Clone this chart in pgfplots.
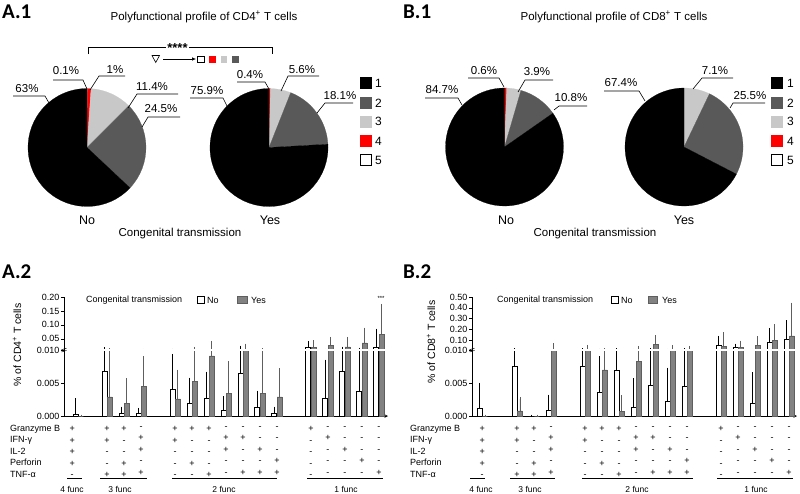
\documentclass[border=0pt]{standalone}
\usepackage{fontspec}
\setmainfont{Liberation Sans}
\newfontfamily\calibri{Carlito}
\usepackage{pgfplots}
\usepackage{pgfplotstable}
\pgfplotsset{compat=1.18}
\usetikzlibrary{arrows.meta}
\definecolor{dg}{HTML}{595959}
\definecolor{lg}{HTML}{C8C8C8}
\definecolor{pred}{HTML}{FF0000}
\definecolor{barg}{HTML}{828282}
\definecolor{barb}{HTML}{5E5E5E}

% CD4 (A.2): x position, No value, No error-bar top, Yes value, Yes error-bar top
\pgfplotstableread{
x     no      notop   yes     yestop
-1.7  0.0003  0.0025  0       0
0     0.0068  0.0150  0.0029  0.0102
1     0.0004  0.0012  0.0019  0.0055
2     0.00035 0.0010  0.0045  0.0088
4     0.0041  0.0092  0.0026  0.0068
5     0.0019  0.0056  0.0052  0.0155
6     0.0027  0.0065  0.0091  0.0370
7     0.0009  0.0028  0.0034  0.0081
8     0.0065  0.0205  0.0105  0.0276
9     0.0014  0.0036  0.0034  0.0102
10    0.0004  0.0012  0.0029  0.0070
12    0.0185  0.0375  0.0185  0.0400
13    0.0027  0.0083  0.0260  0.0520
14    0.0068  0.0170  0.0210  0.0520
15    0.0037  0.0136  0.0360  0.0850
16    0.0205  0.0810  0.0660  0.1700
}\dataA

% CD8 (B.2)
\pgfplotstableread{
x     no      notop   yes     yestop
-2.05 0.0012  0.0048  0       0
0     0.0076  0.0115  0.00076 0.0026
1     0       0       0       0
2     0.0009  0.0030  0.0105  0.0580
4     0.0075  0.0115  0.0110  0.0440
5     0.0036  0.0088  0.0070  0.0116
6     0.0070  0.0116  0.00066 0.0029
7     0.0013  0.0055  0.0083  0.0350
8     0.0046  0.0110  0.0655  0.1330
9     0.0023  0.0071  0.0105  0.0405
10    0.0045  0.0110  0.0102  0.0350
12    0.0530  0.1270  0.0470  0.1580
13    0.0310  0.0560  0.0310  0.0840
14    0.0019  0.0064  0.0530  0.1240
15    0.0840  0.2010  0.1000  0.2320
16    0.1090  0.2690  0.1400  0.4350
}\dataB

% pie slice: centre x, centre y, radius, from %, to % (clockwise from top), colour
\newcommand{\slice}[6]{%
  \filldraw[fill=#6, draw=#6, line width=0.2pt] (axis cs:#1,#2) -- ++({90-3.6*#4}:#3pt)
    arc[start angle={90-3.6*#4}, end angle={90-3.6*#5}, radius=#3pt] -- cycle;}

% half a bar pitch: 2.75pt / 17pt per category
\def\hs{0.1618}

\pgfplotsset{
  barbase/.style={scale only axis, enlargelimits=false,
    axis y line=left, axis line style={-, line width=0.6pt},
    tick align=outside, major tick length=3pt,
    y tick style={line width=0.6pt, black}, x tick style={draw=none},
    yticklabel style={font=\fontsize{9}{10}\selectfont, inner sep=1.5pt},
    scaled y ticks=false},
  noplot/.style={ybar, bar width=5pt, bar shift=0pt, fill=white, draw=black, line width=0.5pt,
    error bars/.cd, y dir=plus, y explicit,
    error bar style={black, line width=0.6pt},
    error mark options={black, mark size=1.5pt, line width=0.6pt}},
  yesplot/.style={ybar, bar width=5pt, bar shift=0pt, fill=barg, draw=barb, line width=0.5pt,
    error bars/.cd, y dir=plus, y explicit,
    error bar style={barb, line width=0.6pt},
    error mark options={barb, mark size=1.5pt, line width=0.6pt}},
  signlabels/.style={
    xtick={-2.05,0,1,2,4,5,6,7,8,9,10,12,13,14,15,16},
    xticklabels={{+\\+\\+\\+\\-},{+\\+\\-\\-\\+},{+\\-\\-\\+\\+},{-\\+\\+\\-\\+},
      {+\\+\\-\\-\\-},{+\\-\\-\\+\\-},{+\\-\\-\\-\\+},{-\\+\\+\\-\\-},{-\\+\\-\\-\\+},
      {-\\-\\+\\-\\+},{-\\-\\-\\+\\+},{+\\-\\-\\-\\-},{-\\+\\-\\-\\-},{-\\-\\+\\-\\-},
      {-\\-\\-\\+\\-},{-\\-\\-\\-\\+}},
    xticklabel style={font=\fontsize{9}{11.5}\selectfont, align=center, anchor=north, inner sep=0pt, yshift=-9pt}}
}

\newcommand{\bars}[1]{%
\addplot[noplot] table[x expr=\thisrow{x}-\hs, y=no, y error expr=\thisrow{notop}-\thisrow{no}] {#1};
\addplot[yesplot] table[x expr=\thisrow{x}+\hs, y=yes, y error expr=\thisrow{yestop}-\thisrow{yes}] {#1};}

\begin{document}
\begin{tikzpicture}
\path[use as bounding box] (0pt,0pt) rectangle (800pt,-493pt);

% ---------- pies ----------
\begin{axis}[at={(0pt,-493pt)}, anchor=south west, scale only axis, width=800pt, height=493pt,
  xmin=0, xmax=800, ymin=0, ymax=493, y dir=reverse, hide axis, clip=false]
\addplot[draw=none] coordinates {(0,0)};
% A.1 No
\slice{87}{147.5}{59}{0}{0.1}{white}
\slice{87}{147.5}{59}{0.1}{1.1}{pred}
\slice{87}{147.5}{59}{1.1}{12.5}{lg}
\slice{87}{147.5}{59}{12.5}{37.0}{dg}
\slice{87}{147.5}{59}{37.0}{100}{black}
% A.1 Yes
\slice{269}{147.5}{59}{0}{0.4}{pred}
\slice{269}{147.5}{59}{0.4}{6.0}{lg}
\slice{269}{147.5}{59}{6.0}{24.1}{dg}
\slice{269}{147.5}{59}{24.1}{100}{black}
% B.1 No
\slice{504.5}{147}{59}{0}{0.6}{pred}
\slice{504.5}{147}{59}{0.6}{4.5}{lg}
\slice{504.5}{147}{59}{4.5}{15.3}{dg}
\slice{504.5}{147}{59}{15.3}{100}{black}
% B.1 Yes
\slice{684}{147}{59}{0}{7.1}{lg}
\slice{684}{147}{59}{7.1}{32.6}{dg}
\slice{684}{147}{59}{32.6}{100}{black}
\end{axis}

% ---------- A.2 lower ----------
\begin{axis}[barbase, signlabels, at={(64pt,-416pt)}, anchor=south west, width=324pt, height=66pt,
  xmin=-2.53, xmax=16.53, ymin=0, ymax=0.010, axis x line=bottom,
  ytick={0,0.005,0.010}, yticklabels={0.000,0.005,0.010}]
\bars{\dataA}
\end{axis}
% ---------- A.2 upper ----------
\begin{axis}[barbase, at={(64pt,-350pt)}, anchor=south west, width=324pt, height=53pt,
  xmin=-2.53, xmax=16.53, ymin=0.010, ymax=0.20, axis x line=none,
  ytick={0.05,0.10,0.15,0.20}, yticklabels={0.05,0.10,0.15,0.20}]
\bars{\dataA}
\end{axis}

% ---------- B.2 lower ----------
\begin{axis}[barbase, signlabels, at={(472pt,-416pt)}, anchor=south west, width=325pt, height=66pt,
  xmin=-2.65, xmax=16.47, ymin=0, ymax=0.010, axis x line=bottom,
  ytick={0,0.005,0.010}, yticklabels={0.000,0.005,0.010}]
\bars{\dataB}
\end{axis}
% ---------- B.2 upper ----------
\begin{axis}[barbase, at={(472pt,-350pt)}, anchor=south west, width=325pt, height=53pt,
  xmin=-2.65, xmax=16.47, ymin=0.010, ymax=0.50, axis x line=none,
  ytick={0.1,0.2,0.3,0.4,0.5}, yticklabels={0.10,0.20,0.30,0.40,0.50}]
\bars{\dataB}
\end{axis}

\begin{scope}[x=1pt,y=1pt]
% ---------- breaks ----------
\draw[white, line width=1.3pt] (64.8,-350) -- (388,-350);
\draw[white, line width=1.3pt] (472.8,-350) -- (797,-350);
\foreach \bx in {64,472}{
  \draw[line width=0.5pt] (\bx-2.5,-349.8) -- (\bx+2.5,-348.2);
  \draw[line width=0.5pt] (\bx-2.5,-352.0) -- (\bx+2.5,-350.4);
}

% ---------- panel labels & titles ----------
\begin{scope}[font=\calibri\bfseries\fontsize{21}{21}\selectfont]
\node[anchor=west, inner sep=0pt] at (2,-12) {A.1};
\node[anchor=west, inner sep=0pt] at (403,-12) {B.1};
\node[anchor=west, inner sep=0pt] at (2,-272) {A.2};
\node[anchor=west, inner sep=0pt] at (403,-272) {B.2};
\end{scope}
\begin{scope}[font=\fontsize{11.5}{12}\selectfont]
\node at (204,-17) {Polyfunctional profile of CD4\textsuperscript{+} T cells};
\node at (614,-17) {Polyfunctional profile of CD8\textsuperscript{+} T cells};
\node at (180,-234) {Congenital transmission};
\node at (595,-234) {Congenital transmission};
\end{scope}
\begin{scope}[font=\fontsize{12.5}{13}\selectfont]
\node at (87,-220) {No};
\node at (270,-220) {Yes};
\node at (506,-220) {No};
\node at (684,-220) {Yes};
\end{scope}

% ---------- pie labels ----------
\begin{scope}[font=\fontsize{11.5}{12}\selectfont, line width=0.6pt]
% A No
\node at (27,-89) {63\%};   \draw (13,-96) -- (45,-96) -- (49,-103);
\node at (66,-71) {0.1\%};  \draw (53,-80) -- (83,-80) -- (87,-89);
\node at (115,-70) {1\%};   \draw (90,-90) -- (99,-76) -- (125,-76);
\node at (152,-87) {11.4\%}; \draw (128,-108) -- (137,-94) -- (178,-94);
\node at (161,-109) {24.5\%}; \draw (142,-127) -- (148,-117) -- (180,-117);
% A Yes
\node at (207,-91) {75.9\%}; \draw (190,-98) -- (223,-98) -- (227,-106);
\node at (250,-75) {0.4\%};  \draw (237,-82) -- (265,-82) -- (269,-89);
\node at (302,-70) {5.6\%};  \draw (281,-91) -- (288,-76) -- (319,-76);
\node at (340,-96) {18.1\%}; \draw (317,-113) -- (325,-103) -- (353,-103);
% B No
\node at (442,-90) {84.7\%}; \draw (425,-98) -- (458,-98) -- (462,-105);
\node at (484,-71) {0.6\%};  \draw (468,-78) -- (499,-78) -- (504,-87);
\node at (537,-72) {3.9\%};  \draw (518,-92) -- (525,-80) -- (553,-80);
\node at (571,-98) {10.8\%}; \draw (554,-110) -- (559,-106) -- (587,-106);
% B Yes
\node at (621,-83) {67.4\%}; \draw (604,-91) -- (639,-91) -- (645,-101);
\node at (715,-71) {7.1\%};  \draw (693,-89) -- (702,-78) -- (733,-78);
\node at (750,-96) {25.5\%}; \draw (730,-108) -- (733,-103) -- (765,-103);
\end{scope}

% ---------- pie legends ----------
\foreach \lx/\tx in {360/375,771/787}{
  \fill[black] (\lx,-77) rectangle ++(12,-12);
  \fill[dg] (\lx,-97) rectangle ++(12,-12);
  \fill[lg] (\lx,-115.5) rectangle ++(12,-12);
  \fill[pred] (\lx,-135) rectangle ++(12,-12);
  \draw[line width=0.7pt, fill=white] (\lx+0.35,-154.35) rectangle ++(11.3,-11.3);
  \begin{scope}[font=\fontsize{12}{12}\selectfont]
  \node[anchor=west, inner sep=0pt] at (\tx,-83) {1};
  \node[anchor=west, inner sep=0pt] at (\tx,-103) {2};
  \node[anchor=west, inner sep=0pt] at (\tx,-121.5) {3};
  \node[anchor=west, inner sep=0pt] at (\tx,-141) {4};
  \node[anchor=west, inner sep=0pt] at (\tx,-160) {5};
  \end{scope}
}

% ---------- significance bracket (A.1) ----------
\draw[line width=0.7pt] (88,-54) -- (88,-47.5) -- (272,-47.5) -- (272,-54);
\node[fill=white, inner sep=1.5pt, font=\bfseries\fontsize{13}{13}\selectfont] at (177.5,-48) {****};
\draw[line width=0.6pt] (152,-55.5) -- (159.5,-55.5) -- (155.75,-62.5) -- cycle;
\draw[line width=0.6pt, -{Latex[length=4pt,width=3.5pt]}] (163,-59) -- (196,-59);
\draw[line width=0.6pt, fill=white] (197.5,-56) rectangle (204,-62.5);
\fill[pred] (209,-56) rectangle (215.5,-62.5);
\fill[lg] (220.5,-56) rectangle (227,-62.5);
\fill[dg] (232,-56) rectangle (238.5,-62.5);

% ---------- bar chart y labels and legends ----------
\node[rotate=90, font=\fontsize{10.5}{11}\selectfont] at (17,-345) {\% of CD4\textsuperscript{+} T cells};
\node[rotate=90, font=\fontsize{10.5}{11}\selectfont] at (431,-342) {\% of CD8\textsuperscript{+} T cells};
\begin{scope}[font=\fontsize{9}{10}\selectfont]
\node[anchor=west, inner sep=0pt] at (86,-300) {Congenital transmission};
\draw[line width=0.5pt, fill=white] (197,-296.5) rectangle (204,-303.5);
\node[anchor=west, inner sep=0pt] at (207,-300) {No};
\filldraw[fill=barg, draw=barb, line width=0.5pt] (237,-296.5) rectangle (247,-303.5);
\node[anchor=west, inner sep=0pt] at (251,-300) {Yes};
\node[anchor=west, inner sep=0pt] at (497,-300) {Congenital transmission};
\draw[line width=0.5pt, fill=white] (611,-296.5) rectangle (618,-303.5);
\node[anchor=west, inner sep=0pt] at (621,-300) {No};
\filldraw[fill=barg, draw=barb, line width=0.5pt] (648,-296.5) rectangle (657,-303.5);
\node[anchor=west, inner sep=0pt] at (662,-300) {Yes};
\end{scope}
\node[font=\fontsize{6}{6}\selectfont] at (381,-298) {***};

% ---------- row names ----------
\begin{scope}[font=\fontsize{9}{11.5}\selectfont]
\node[anchor=north west, align=left, inner sep=0pt] at (10,-425) {Granzyme B\\IFN-γ\\IL-2\\Perforin\\TNF-α};
\node[anchor=north west, align=left, inner sep=0pt] at (410,-425) {Granzyme B\\IFN-γ\\IL-2\\Perforin\\TNF-α};
\end{scope}

% ---------- func groups ----------
\begin{scope}[line width=0.6pt]
\draw (67,-478) -- (82,-478);  \draw (100,-478) -- (147,-478);
\draw (172,-478) -- (277,-478); \draw (307,-478) -- (383,-478);
\draw (470,-478) -- (485,-478); \draw (510,-478) -- (555,-478);
\draw (582,-478) -- (693,-478); \draw (717,-478) -- (793,-478);
\end{scope}
\begin{scope}[font=\fontsize{8.5}{9}\selectfont]
\node at (72,-489) {4 func}; \node at (120,-489) {3 func};
\node at (224,-489) {2 func}; \node at (346,-489) {1 func};
\node at (481,-489) {4 func}; \node at (530,-489) {3 func};
\node at (637,-489) {2 func}; \node at (756,-489) {1 func};
\end{scope}
\end{scope}
\end{tikzpicture}
\end{document}
